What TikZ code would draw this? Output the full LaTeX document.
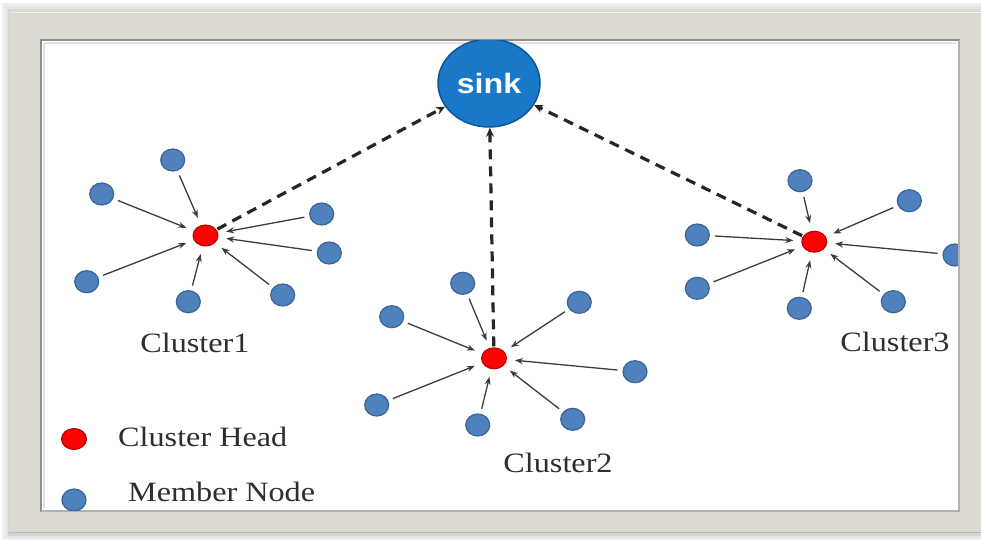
\documentclass[tikz,border=0pt]{standalone}
\usepackage{fontspec}
\usetikzlibrary{shapes.geometric,arrows.meta}
\newfontfamily\lblfont[FakeStretch=1.15]{Liberation Serif}
\newfontfamily\sinkfont[FakeStretch=1.15]{Liberation Sans}
\definecolor{framegrey}{HTML}{DCDAD2}
\definecolor{frameedge}{HTML}{BDBBB4}
\definecolor{innerline}{HTML}{8E8E8E}
\definecolor{memberfill}{HTML}{4F81BD}
\definecolor{memberline}{HTML}{3A6496}
\definecolor{headfill}{HTML}{FF0000}
\definecolor{headline}{HTML}{B00000}
\definecolor{sinkfill}{HTML}{1A78C8}
\definecolor{sinkline}{HTML}{0F5696}
\definecolor{linkgrey}{HTML}{3C3C3C}
\definecolor{labeltext}{HTML}{2E2E2E}
\tikzset{
  member/.style={ellipse, fill=memberfill, draw=memberline, line width=1.2pt,
    minimum width=24pt, minimum height=22pt, inner sep=0pt},
  head/.style={ellipse, fill=headfill, draw=headline, line width=1pt,
    minimum width=25pt, minimum height=21pt, inner sep=0pt},
  sinknode/.style={ellipse, fill=sinkfill, draw=sinkline, line width=1.5pt,
    minimum width=102pt, minimum height=88pt, inner sep=0pt,
    text=white, font=\sinkfont\bfseries\fontsize{28}{30}\selectfont},
  joinlink/.style={draw=linkgrey, line width=1.3pt,
    -{Stealth[length=8pt,width=6pt]}, shorten >=8pt, shorten <=5pt},
  uplink/.style={draw=black!85, line width=3.2pt, dash pattern=on 10pt off 7pt,
    -{Stealth[length=9pt,width=8pt]}, shorten <=1pt},
  clabel/.style={text=labeltext, font=\lblfont\fontsize{28}{30}\selectfont, inner sep=0pt}
}
\begin{document}
\begin{tikzpicture}[x=1pt,y=-1pt]
\useasboundingbox (0,0) rectangle (981,540);
% page and soft shadow round the frame
\fill[white] (0,0) rectangle (981,540);
\fill[black!6] (2,3) rectangle (981,540);
\fill[black!10] (5,6) rectangle (981,538);
\fill[black!16] (8,9) rectangle (981,536);
% outer frame
\fill[framegrey] (9,9) rectangle (981,532);
\draw[white!70!framegrey, line width=1.5pt] (11,12.5) -- (981,12.5);
\draw[frameedge, line width=1pt] (9,532) -- (981,532);
% inner white panel with bevelled edge
\fill[white] (40,39) rectangle (960,512);
\draw[innerline, line width=1.8pt] (41,512) -- (41,40) -- (960,40);
\draw[innerline!70, line width=1.4pt] (959,40) -- (959,511) -- (41,511);
\draw[black!12, line width=2pt] (44,43) -- (956,43);
\draw[black!12, line width=2pt] (44,43) -- (44,508);

\begin{scope}
\clip (42,41) rectangle (958,510);
% sink
\node[sinknode] (sink) at (489,83) {sink};
% cluster heads
\node[head] (h1) at (205.5,235.5) {};
\node[head] (h2) at (494,358.3) {};
\node[head] (h3) at (814.3,241.7) {};
% cluster 1 members
\node[member] (a1) at (172.7,160) {};
\node[member] (a2) at (101.7,194) {};
\node[member] (a3) at (321.7,214) {};
\node[member] (a4) at (329.3,253) {};
\node[member] (a5) at (86.7,281.7) {};
\node[member] (a6) at (188.3,301.7) {};
\node[member] (a7) at (282.7,295) {};
% cluster 2 members
\node[member] (b1) at (462.7,283.3) {};
\node[member] (b2) at (391.7,316.7) {};
\node[member] (b3) at (579.3,302.3) {};
\node[member] (b4) at (635,371.7) {};
\node[member] (b5) at (376.7,405) {};
\node[member] (b6) at (477.7,425) {};
\node[member] (b7) at (572.7,419.3) {};
% cluster 3 members
\node[member] (c1) at (800,180.7) {};
\node[member] (c2) at (909.3,200.7) {};
\node[member] (c3) at (697.3,235) {};
\node[member] (c4) at (955,255) {};
\node[member] (c5) at (697.3,288.3) {};
\node[member] (c6) at (799.3,308.3) {};
\node[member] (c7) at (893.3,301.7) {};
% members report to their heads
\foreach \m in {a1,a2,a3,a4,a5,a6,a7} \draw[joinlink] (\m) -- (h1);
\foreach \m in {b1,b2,b3,b4,b5,b6,b7} \draw[joinlink] (\m) -- (h2);
\foreach \m in {c1,c2,c3,c4,c5,c6,c7} \draw[joinlink] (\m) -- (h3);
% heads forward to the sink
\draw[uplink] (h1) -- (sink);
\draw[uplink] (h2) -- (sink);
\draw[uplink] (h3) -- (sink);
% cluster captions
\node[clabel] (l1) at (195,343) {Cluster1};
\node[clabel] (l2) at (558,463) {Cluster2};
\node[clabel] (l3) at (895,342) {Cluster3};
% legend
\node[head] (kh) at (74,439) {};
\node[member] (km) at (74,500) {};
\node[clabel, anchor=west] (kht) at (118,437) {Cluster Head};
\node[clabel, anchor=west] (kmt) at (128,492) {Member Node};
\end{scope}
\end{tikzpicture}
\end{document}
